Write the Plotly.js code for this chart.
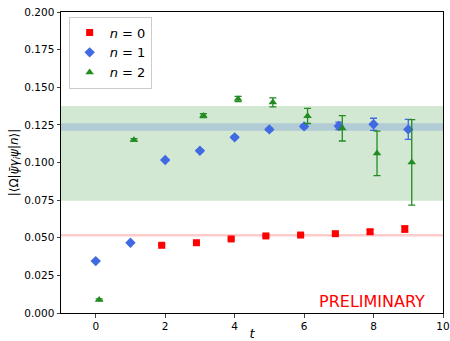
<!DOCTYPE html>
<html><head><meta charset="utf-8">
<script src="https://cdn.plot.ly/plotly-3.0.1.min.js"></script>
<style>html,body{margin:0;padding:0;background:#fff}#chart{width:450px;height:341px}</style>
</head><body><div id="chart"></div>
<script>
// Data
const t0 = [2, 3, 4, 5, 6, 7, 8, 9];
const y0 = [0.0450, 0.0467, 0.0492, 0.0512, 0.0518, 0.0527, 0.0540, 0.0558];
const e0 = [0.0006, 0.0006, 0.0007, 0.0007, 0.0008, 0.0009, 0.0013, 0.0020];
const t1 = [0, 1, 2, 3, 4, 5, 6, 7, 8, 9];
const y1 = [0.0345, 0.0467, 0.1017, 0.1078, 0.1167, 0.1220, 0.1240, 0.1243, 0.1254, 0.1220];
const e1 = [0.0004, 0.0004, 0.0006, 0.0007, 0.0008, 0.0009, 0.0012, 0.0025, 0.0040, 0.0066];
const t2 = [0, 1, 3, 4, 5, 6, 7, 8, 9];
const y2 = [0.0088, 0.1150, 0.1311, 0.1422, 0.1400, 0.1309, 0.1227, 0.1061, 0.1001];
const e2 = [0.0006, 0.0008, 0.0013, 0.0018, 0.0030, 0.0050, 0.0084, 0.0148, 0.0284];
const seriesNames = ['<i>n</i> = 0', '<i>n</i> = 1', '<i>n</i> = 2'];
const offsets = [-0.1, 0, 0.1];
// Fit bands [low, high]
const band0 = [0.0509, 0.0525];
const band1 = [0.1211, 0.1260];
const band2 = [0.0746, 0.1375];
const xTicks = [0, 2, 4, 6, 8, 10];
const yTicks = [0, 0.025, 0.05, 0.075, 0.1, 0.125, 0.15, 0.175, 0.2];

function mk(t, y, e, name, off, color, symbol, size) {
  return {
    x: t.map(v => v + off), y: y, type: 'scatter', mode: 'markers', name: name,
    marker: {color: color, symbol: symbol, size: size},
    error_y: {type: 'data', array: e, visible: true, color: color, thickness: 1.3, width: 3.5}
  };
}
const traces = [
  mk(t0, y0, e0, seriesNames[0], offsets[0], '#ff0000', 'square', 7),
  mk(t1, y1, e1, seriesNames[1], offsets[1], '#4169e1', 'diamond', 8),
  mk(t2, y2, e2, seriesNames[2], offsets[2], '#228b22', 'triangle-up', 7.5)
];
function band(b, color) {
  return {type: 'rect', xref: 'paper', yref: 'y', x0: 0, x1: 1, y0: b[0], y1: b[1],
          fillcolor: color, line: {width: 0}, layer: 'below'};
}
const layout = {
  width: 450, height: 341,
  margin: {l: 61, r: 7, t: 12, b: 28},
  paper_bgcolor: '#fff', plot_bgcolor: '#fff',
  font: {family: 'DejaVu Sans', size: 10.5, color: '#000'},
  showlegend: true,
  legend: {x: 0.02, y: 0.985, xanchor: 'left', yanchor: 'top', bgcolor: 'rgba(255,255,255,0.8)',
           bordercolor: '#ccc', borderwidth: 1, font: {size: 13}},
  xaxis: {range: [-1, 10], tickvals: xTicks, ticktext: xTicks.map(String), ticks: 'outside', ticklen: 3.5,
          showline: true, mirror: true, linecolor: '#000', linewidth: 1, showgrid: false, zeroline: false,
          title: {text: '<i>t</i>', font: {size: 13}, standoff: 4}},
  yaxis: {range: [0, 0.2], tickvals: yTicks, ticktext: yTicks.map(v => v.toFixed(3)), ticks: 'outside', ticklen: 3.5,
          showline: true, mirror: true, linecolor: '#000', linewidth: 1, showgrid: false, zeroline: false,
          title: {text: '|⟨Ω|<i>ψ̄γ<sub>i</sub>ψ</i>|<i>n</i>⟩|', font: {size: 12}, standoff: 3}},
  shapes: [band(band2, 'rgba(34,139,34,0.2)'), band(band1, 'rgba(65,105,225,0.22)'), band(band0, 'rgba(255,0,0,0.2)')],
  annotations: [{xref: 'x', yref: 'y', x: 7.95, y: 0.0, text: 'PRELIMINARY', showarrow: false,
                 xanchor: 'center', yanchor: 'bottom', font: {size: 16, color: '#ff0000'}}]
};
Plotly.newPlot('chart', traces, layout, {displayModeBar: false, staticPlot: true});
</script></body></html>
